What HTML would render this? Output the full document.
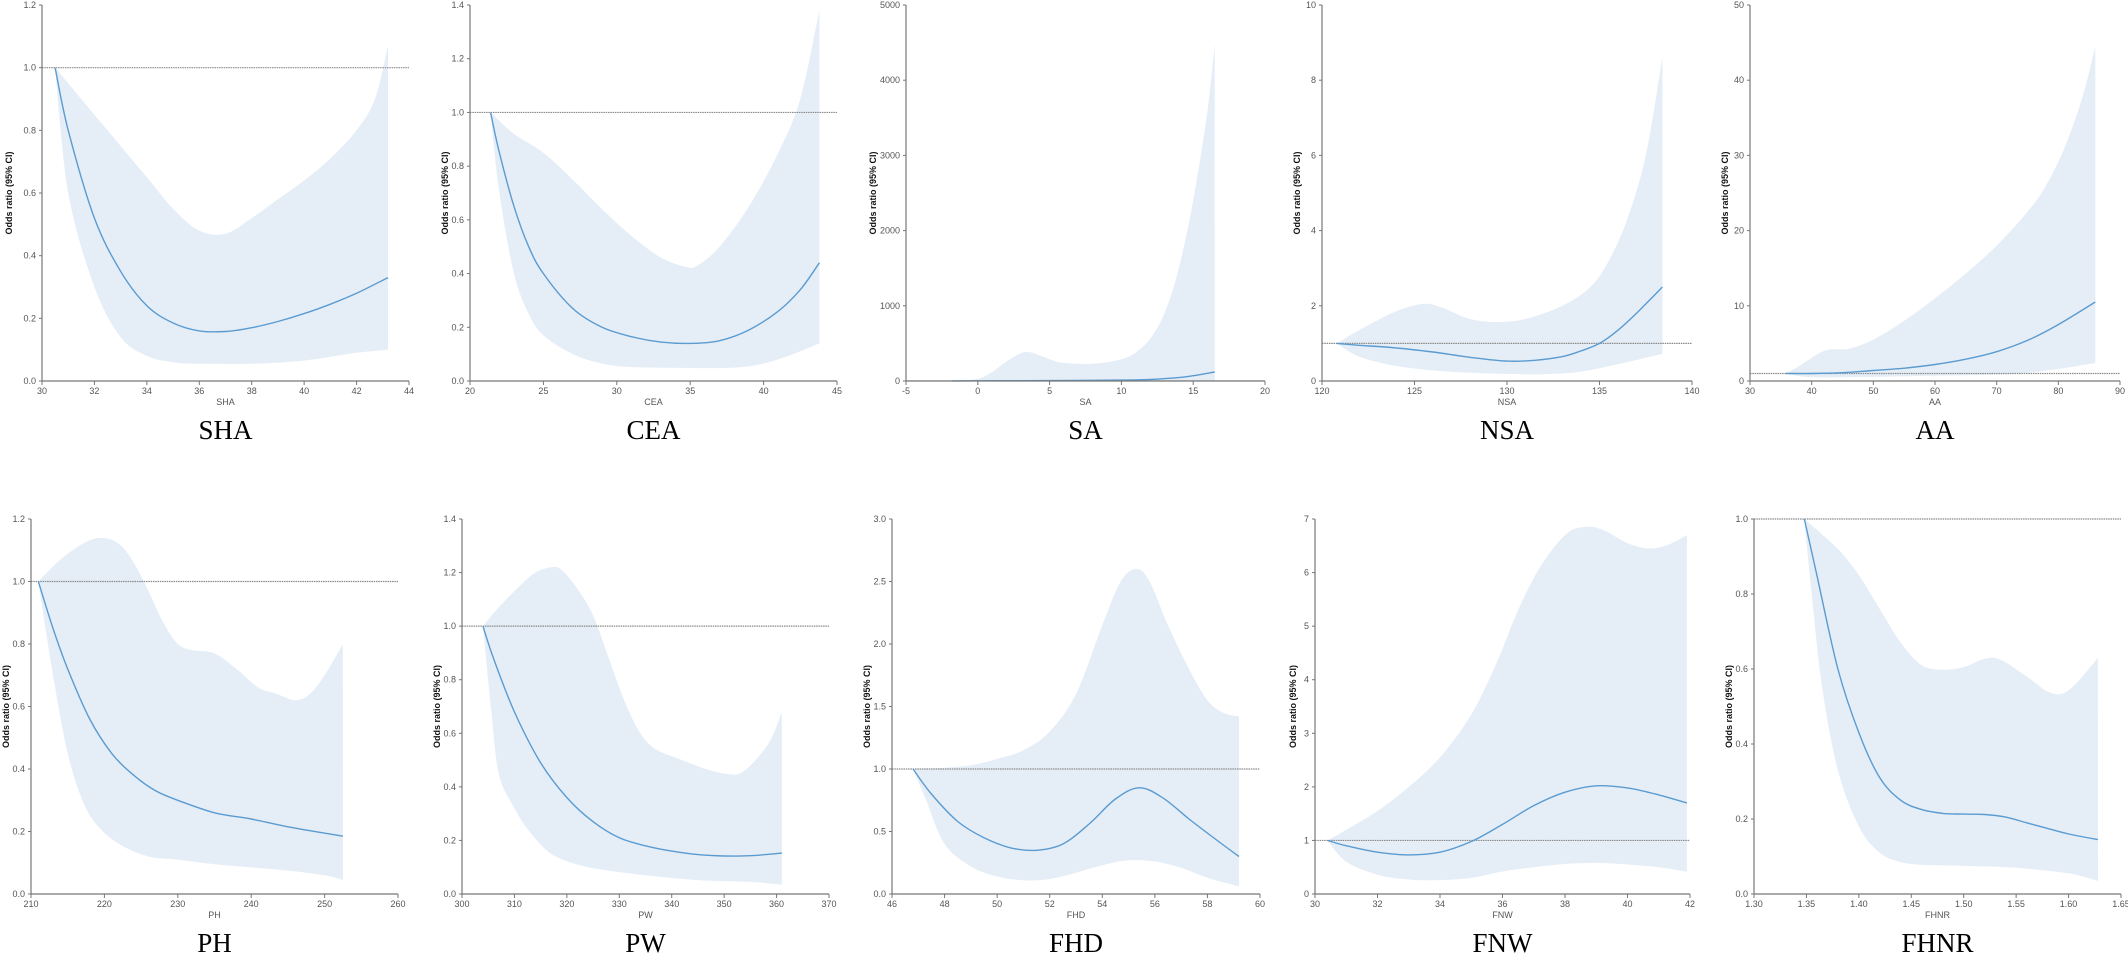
<!DOCTYPE html>
<html><head><meta charset="utf-8">
<style>
body{margin:0;background:#fff;}
svg{display:block;}
text{font-family:"Liberation Sans",Arial,sans-serif;}
.tick{font-size:9px;fill:#555;}
.xl{font-size:9px;fill:#555;}
.yl{font-size:9px;fill:#111;font-weight:bold;}
.title{font-family:"Liberation Serif",serif;font-size:27px;fill:#000;}
</style></head>
<body>
<svg id="chart" width="2128" height="957" viewBox="0 0 2128 957" xmlns="http://www.w3.org/2000/svg"></svg>
<script>
// ---- SHA ----
const shaEst=[[30.5,1.0],[31,0.8],[32,0.52],[33,0.35],[34,0.24],[35,0.185],[36,0.16],[37,0.158],[38,0.17],[39,0.19],[40,0.215],[41,0.245],[42,0.28],[43.2,0.33]];
const shaHi=[[30.5,1.0],[32,0.85],[34,0.65],[35,0.55],[36,0.48],[37,0.47],[38,0.52],[39,0.58],[40,0.64],[41,0.71],[42,0.8],[42.7,0.9],[43.2,1.07]];
const shaLo=[[30.5,1.0],[31,0.6],[32,0.3],[33,0.14],[34,0.08],[35,0.06],[36,0.055],[38,0.055],[40,0.065],[42,0.09],[43.2,0.1]];
const shaXTicks=[30,32,34,36,38,40,42,44];
const shaYTicks=["0.0","0.2","0.4","0.6","0.8","1.0","1.2"];
// ---- CEA ----
const ceaEst=[[21.4,1.0],[22,0.85],[23,0.65],[24,0.5],[25,0.4],[27,0.27],[29,0.2],[31,0.165],[33,0.145],[35,0.14],[37,0.15],[39,0.19],[41,0.26],[42.5,0.34],[43.8,0.44]];
const ceaHi=[[21.4,1],[23,0.92],[25,0.85],[27,0.75],[29,0.64],[31,0.54],[33,0.46],[34.7,0.425],[35.5,0.43],[37,0.5],[39,0.65],[41,0.85],[42.5,1.05],[43.8,1.38]];
const ceaLo=[[21.4,1],[22,0.7],[23,0.4],[24,0.25],[25,0.17],[27,0.1],[29,0.065],[31,0.052],[35,0.048],[38,0.05],[40,0.065],[42,0.1],[43.8,0.14]];
const ceaXTicks=[20,25,30,35,40,45];
const ceaYTicks=["0.0","0.2","0.4","0.6","0.8","1.0","1.2","1.4"];
// ---- SA ----
const saEst=[[-1.8,1],[0,2],[5,5],[10,12],[12,20],[14,45],[15,70],[16.5,120]];
const saHi=[[-1.8,1],[0,30],[1,120],[2,260],[3,370],[3.7,380],[5,290],[6,240],[8,230],[10,290],[11,380],[12,560],[13,900],[14,1500],[15,2400],[16,3600],[16.5,4480]];
const saLo=[[-1.8,0.5],[5,0.5],[16.5,0.5]];
const saXTicks=[-5,0,5,10,15,20];
const saYTicks=["0","1000","2000","3000","4000","5000"];
// ---- NSA ----
const nsaEst=[[120.8,1],[122,0.95],[124,0.88],[126,0.77],[128,0.63],[130,0.53],[131.5,0.55],[133,0.65],[134,0.8],[135,1.0],[136,1.35],[137,1.8],[138.4,2.5]];
const nsaHi=[[120.8,1],[122,1.35],[124,1.85],[125.5,2.05],[126.5,1.95],[128,1.65],[129.5,1.57],[131,1.65],[133,2.0],[134.5,2.5],[135.5,3.2],[136.5,4.3],[137.5,6.0],[138.4,8.6]];
const nsaLo=[[120.8,1],[122,0.65],[124,0.4],[126,0.28],[128,0.22],[130,0.19],[132,0.18],[134,0.25],[136,0.45],[138.4,0.72]];
const nsaXTicks=[120,125,130,135,140];
const nsaYTicks=["0","2","4","6","8","10"];
// ---- AA ----
const aaEst=[[35.8,1],[40,1.0],[45,1.1],[50,1.4],[55,1.7],[60,2.2],[65,2.9],[70,3.9],[75,5.4],[80,7.5],[86,10.5]];
const aaHi=[[35.8,1],[38,2.0],[41,3.6],[43,4.2],[46,4.3],[50,5.5],[55,8.0],[60,11],[65,14.3],[70,18],[75,22.5],[78,26],[81,31],[84,38],[86,44.5]];
const aaLo=[[35.8,1],[40,0.5],[50,0.55],[60,0.7],[70,0.85],[75,1.1],[80,1.6],[86,2.4]];
const aaXTicks=[30,40,50,60,70,80,90];
const aaYTicks=["0","10","20","30","40","50"];
// ---- PH ----
const phEst=[[211,1.0],[213,0.85],[215,0.72],[218,0.56],[221,0.45],[224,0.38],[227,0.33],[230,0.3],[235,0.26],[240,0.24],[245,0.215],[252.5,0.185]];
const phHi=[[211,1],[214,1.07],[217,1.12],[219.5,1.14],[222,1.12],[224,1.06],[226,0.97],[228,0.87],[230,0.8],[232,0.78],[235,0.77],[238,0.72],[241,0.66],[243.5,0.64],[246,0.62],[248,0.64],[250,0.7],[252.5,0.8]];
const phLo=[[211,1],[213,0.7],[215,0.45],[217,0.3],[219,0.22],[222,0.16],[226,0.12],[230,0.11],[235,0.095],[240,0.085],[245,0.075],[250,0.06],[252.5,0.045]];
const phXTicks=[210,220,230,240,250,260];
const phYTicks=["0.0","0.2","0.4","0.6","0.8","1.0","1.2"];
// ---- PW ----
const pwEst=[[304,1],[306,0.88],[310,0.68],[315,0.49],[320,0.36],[325,0.27],[330,0.21],[335,0.18],[340,0.16],[345,0.147],[350,0.142],[355,0.143],[361,0.153]];
const pwHi=[[304,1],[307,1.07],[311,1.15],[314,1.2],[317,1.22],[319,1.21],[322,1.14],[325,1.04],[328,0.88],[331,0.72],[334,0.6],[337,0.54],[342,0.5],[346,0.47],[350,0.45],[353,0.45],[356,0.5],[359,0.58],[361,0.68]];
const pwLo=[[304,1],[305.5,0.7],[307,0.45],[310,0.32],[313,0.23],[317,0.15],[322,0.11],[327,0.09],[335,0.07],[345,0.052],[355,0.045],[361,0.035]];
const pwXTicks=[300,310,320,330,340,350,360,370];
const pwYTicks=["0.0","0.2","0.4","0.6","0.8","1.0","1.2","1.4"];
// ---- FHD ----
const fhdEst=[[46.8,1],[47.5,0.8],[48.5,0.58],[49.5,0.45],[50.5,0.37],[51.5,0.35],[52.5,0.4],[53.5,0.56],[54.5,0.76],[55.4,0.85],[56.3,0.77],[57.3,0.6],[58.3,0.44],[59.2,0.3]];
const fhdHi=[[46.8,1],[48,1.01],[49,1.03],[50,1.08],[51,1.15],[52,1.3],[53,1.6],[54,2.15],[54.7,2.5],[55.3,2.6],[55.8,2.5],[56.5,2.15],[57.3,1.8],[58,1.55],[58.6,1.45],[59.2,1.42]];
const fhdLo=[[46.8,1],[47.3,0.75],[48,0.4],[49,0.22],[50,0.14],[51,0.11],[52,0.12],[53,0.17],[54,0.23],[55,0.27],[56,0.26],[57,0.21],[58,0.13],[59.2,0.06]];
const fhdXTicks=[46,48,50,52,54,56,58,60];
const fhdYTicks=["0.0","0.5","1.0","1.5","2.0","2.5","3.0"];
// ---- FNW ----
const fnwEst=[[30.4,1],[31,0.9],[32,0.78],[33,0.73],[34,0.78],[35,0.98],[36,1.3],[37,1.65],[38,1.9],[39,2.02],[40,1.98],[41,1.85],[41.9,1.7]];
const fnwHi=[[30.4,1],[31,1.2],[32,1.55],[33,2.0],[34,2.55],[35,3.35],[35.8,4.3],[36.5,5.3],[37.2,6.1],[38,6.7],[38.6,6.85],[39.2,6.8],[40,6.55],[40.7,6.45],[41.3,6.52],[41.9,6.7]];
const fnwLo=[[30.4,1],[31,0.6],[32,0.36],[33,0.27],[34,0.26],[35,0.3],[36,0.42],[37,0.5],[38,0.56],[39,0.58],[40,0.55],[41,0.5],[41.9,0.42]];
const fnwXTicks=[30,32,34,36,38,40,42];
const fnwYTicks=["0","1","2","3","4","5","6","7"];
// ---- FHNR ----
const fhnrEst=[[1.348,1.0],[1.36,0.85],[1.38,0.6],[1.40,0.43],[1.42,0.31],[1.44,0.25],[1.46,0.225],[1.48,0.215],[1.50,0.213],[1.52,0.212],[1.54,0.205],[1.56,0.19],[1.58,0.175],[1.60,0.16],[1.628,0.145]];
const fhnrHi=[[1.348,1],[1.38,0.92],[1.40,0.85],[1.42,0.76],[1.44,0.67],[1.46,0.61],[1.48,0.598],[1.50,0.605],[1.52,0.627],[1.535,0.625],[1.56,0.58],[1.58,0.54],[1.595,0.535],[1.61,0.57],[1.628,0.63]];
const fhnrLo=[[1.348,1],[1.355,0.8],[1.365,0.55],[1.38,0.33],[1.40,0.18],[1.42,0.11],[1.44,0.085],[1.46,0.078],[1.50,0.075],[1.55,0.07],[1.60,0.055],[1.628,0.035]];
const fhnrXTicks=["1.30","1.35","1.40","1.45","1.50","1.55","1.60","1.65"];
const fhnrYTicks=["0.0","0.2","0.4","0.6","0.8","1.0"];

const NS="http://www.w3.org/2000/svg";
const svg=document.getElementById('chart');
function mk(tag,attrs,parent){const e=document.createElementNS(NS,tag);for(const k in attrs)e.setAttribute(k,attrs[k]);(parent||svg).appendChild(e);return e;}
function spline(pts,move){
  let d=move?`M${pts[0][0]},${pts[0][1]}`:`L${pts[0][0]},${pts[0][1]}`;
  for(let i=0;i<pts.length-1;i++){
    const p0=pts[Math.max(0,i-1)],p1=pts[i],p2=pts[i+1],p3=pts[Math.min(pts.length-1,i+2)];
    const c1x=p1[0]+(p2[0]-p0[0])/6,c1y=p1[1]+(p2[1]-p0[1])/6;
    const c2x=p2[0]-(p3[0]-p1[0])/6,c2y=p2[1]-(p3[1]-p1[1])/6;
    d+=`C${c1x.toFixed(1)},${c1y.toFixed(1)} ${c2x.toFixed(1)},${c2y.toFixed(1)} ${p2[0].toFixed(1)},${p2[1].toFixed(1)}`;
  }
  return d;
}
const panels=[
 {id:'sha',name:'SHA',L:42,R:409,T:5,B:381,est:shaEst,hi:shaHi,lo:shaLo,xt:shaXTicks,yt:shaYTicks,ylo:33},
 {id:'cea',name:'CEA',L:470,R:837,T:5,B:381,est:ceaEst,hi:ceaHi,lo:ceaLo,xt:ceaXTicks,yt:ceaYTicks,ylo:25},
 {id:'sa',name:'SA',L:906,R:1265,T:5,B:381,est:saEst,hi:saHi,lo:saLo,xt:saXTicks,yt:saYTicks,ylo:33},
 {id:'nsa',name:'NSA',L:1322,R:1692,T:5,B:381,est:nsaEst,hi:nsaHi,lo:nsaLo,xt:nsaXTicks,yt:nsaYTicks,ylo:25},
 {id:'aa',name:'AA',L:1750,R:2120,T:5,B:381,est:aaEst,hi:aaHi,lo:aaLo,xt:aaXTicks,yt:aaYTicks,ylo:25},
 {id:'ph',name:'PH',L:31,R:398,T:519,B:894,est:phEst,hi:phHi,lo:phLo,xt:phXTicks,yt:phYTicks,ylo:25},
 {id:'pw',name:'PW',L:462,R:829,T:519,B:894,est:pwEst,hi:pwHi,lo:pwLo,xt:pwXTicks,yt:pwYTicks,ylo:25},
 {id:'fhd',name:'FHD',L:892,R:1260,T:519,B:894,est:fhdEst,hi:fhdHi,lo:fhdLo,xt:fhdXTicks,yt:fhdYTicks,ylo:25},
 {id:'fnw',name:'FNW',L:1315,R:1690,T:519,B:894,est:fnwEst,hi:fnwHi,lo:fnwLo,xt:fnwXTicks,yt:fnwYTicks,ylo:22},
 {id:'fhnr',name:'FHNR',L:1754,R:2121,T:519,B:894,est:fhnrEst,hi:fhnrHi,lo:fhnrLo,xt:fhnrXTicks,yt:fhnrYTicks,ylo:25}
];
panels.forEach(p=>{
  const g=mk('g',{});
  
  
  const x0=+p.xt[0],x1=+p.xt[p.xt.length-1],y0=+p.yt[0],y1=+p.yt[p.yt.length-1];
  const sx=v=>p.L+(v-x0)/(x1-x0)*(p.R-p.L);
  const sy=v=>p.B-(v-y0)/(y1-y0)*(p.B-p.T);
  const m=a=>a.map(q=>[sx(q[0]),sy(q[1])]);
  const hiP=m(p.hi),loP=m(p.lo).reverse();
  const band=mk('path',{d:spline(hiP,true)+spline(loP,false)+'Z',fill:'#e5eef7',stroke:'none'},g);
  
  
  const ref=mk('line',{x1:p.L,x2:p.R,y1:sy(1),y2:sy(1),stroke:'#8a8a8a','stroke-width':1.2,'stroke-dasharray':'1.5,0.8'},g);
  
  
  const ln=mk('path',{d:spline(m(p.est),true),fill:'none',stroke:'#5a9bd1','stroke-width':1.4},g);
  
  
  const ya=mk('line',{x1:p.L,x2:p.L,y1:p.T,y2:p.B,stroke:'#777','stroke-width':1.2},g);
  
  
  const xa=mk('line',{x1:p.L,x2:p.R,y1:p.B,y2:p.B,stroke:'#777','stroke-width':1.2},g);
  
  
  p.yt.forEach(t=>{
    const y=sy(+t);
    mk('line',{x1:p.L-3,x2:p.L,y1:y,y2:y,stroke:'#777'},g);
    const tx=mk('text',{x:p.L-6,y:y+3,'text-anchor':'end',class:'tick'},g);
    tx.textContent=t;
    
    
  });
  p.xt.forEach(t=>{
    const x=sx(+t);
    mk('line',{x1:x,x2:x,y1:p.B,y2:p.B+4,stroke:'#777'},g);
    const tx=mk('text',{x:x,y:p.B+13,'text-anchor':'middle',class:'tick'},g);
    tx.textContent=t;
    
    
  });
  const xl=mk('text',{x:(p.L+p.R)/2,y:p.B+24,'text-anchor':'middle',class:'xl'},g);
  xl.textContent=p.name;
  
  
  const cy=(p.T+p.B)/2, cx=p.L-p.ylo+3;
  const yl=mk('text',{x:cx,y:cy,'text-anchor':'middle',class:'yl',transform:`rotate(-90 ${cx} ${cy})`},g);
  yl.textContent='Odds ratio (95% CI)';
  
  
  const ti=mk('text',{x:(p.L+p.R)/2,y:p.B+(p.T<100?58:58),'text-anchor':'middle',class:'title'},g);
  ti.textContent=p.name;
  
  
});
</script>
</body></html>
